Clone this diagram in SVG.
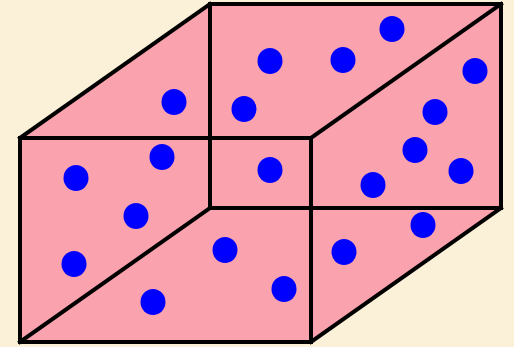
<svg xmlns="http://www.w3.org/2000/svg" width="514" height="347" viewBox="0 0 514 347">
<style>
.edge{stroke:#000;stroke-width:4;fill:none;stroke-linejoin:miter;stroke-linecap:square}
.dot{fill:#0000FF}
</style>
<rect x="0" y="0" width="514" height="347" fill="#FBF1D9"/>
<g id="box">
<polygon points="20,138 210,4 501,4 501,208 311,342 20,342" fill="#FAA3AF"/>
<rect class="edge" x="210" y="4" width="291" height="204"/>
<rect class="edge" x="20" y="138" width="291" height="204"/>
<line class="edge" x1="20" y1="138" x2="210" y2="4"/>
<line class="edge" x1="311" y1="138" x2="501" y2="4"/>
<line class="edge" x1="311" y1="342" x2="501" y2="208"/>
<line class="edge" x1="20" y1="342" x2="210" y2="208"/>
</g>
<g id="dots">
<ellipse class="dot" cx="392" cy="29" rx="12.5" ry="13"/>
<ellipse class="dot" cx="270" cy="61" rx="12.5" ry="13"/>
<ellipse class="dot" cx="343" cy="60" rx="12.5" ry="13"/>
<ellipse class="dot" cx="475" cy="71" rx="12.5" ry="13"/>
<ellipse class="dot" cx="174" cy="102" rx="12.5" ry="13"/>
<ellipse class="dot" cx="244" cy="109" rx="12.5" ry="13"/>
<ellipse class="dot" cx="435" cy="112" rx="12.5" ry="13"/>
<ellipse class="dot" cx="162" cy="157" rx="12.5" ry="13"/>
<ellipse class="dot" cx="415" cy="150" rx="12.5" ry="13"/>
<ellipse class="dot" cx="76" cy="178" rx="12.5" ry="13"/>
<ellipse class="dot" cx="270" cy="170" rx="12.5" ry="13"/>
<ellipse class="dot" cx="461" cy="171" rx="12.5" ry="13"/>
<ellipse class="dot" cx="373" cy="185" rx="12.5" ry="13"/>
<ellipse class="dot" cx="136" cy="216" rx="12.5" ry="13"/>
<ellipse class="dot" cx="423" cy="225" rx="12.5" ry="13"/>
<ellipse class="dot" cx="225" cy="250" rx="12.5" ry="13"/>
<ellipse class="dot" cx="344" cy="252" rx="12.5" ry="13"/>
<ellipse class="dot" cx="74" cy="264" rx="12.5" ry="13"/>
<ellipse class="dot" cx="284" cy="289" rx="12.5" ry="13"/>
<ellipse class="dot" cx="153" cy="302" rx="12.5" ry="13"/>
</g>
</svg>
